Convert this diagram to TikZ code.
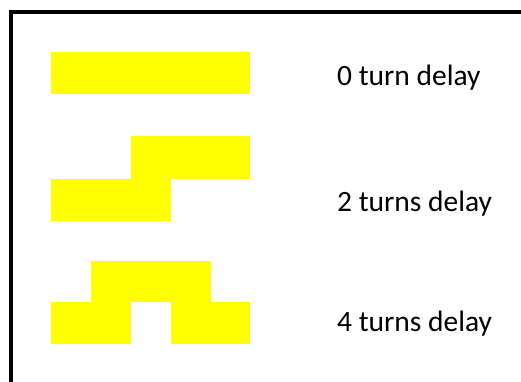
\documentclass[tikz,border=0pt]{standalone}
\usepackage{fontspec}
\setmainfont{Carlito}
\begin{document}
\begin{tikzpicture}[x=1pt,y=-1pt,
  bar/.style={fill={rgb,255:red,255;green,255;blue,0}, draw=none},
  lbl/.style={anchor=base west, inner sep=0pt, font=\fontsize{29.5}{34}\selectfont}]
\useasboundingbox (0,0) rectangle (521,381);
\fill[white] (0,0) rectangle (521,381);
\draw[line width=4pt, miter limit=10] (11,384) -- (11,12) -- (524,12);
% 0 turn delay
\fill[bar] (51,52) rectangle (250,94);
% 2 turns delay
\fill[bar] (131,136) rectangle (250,179);
\fill[bar] (51,179) rectangle (171,221);
% 4 turns delay
\fill[bar] (91,261) rectangle (211,302);
\fill[bar] (51,302) rectangle (131,344);
\fill[bar] (171,302) rectangle (250,344);
\node[lbl] (t0) at (337,85) {0 turn delay};
\node[lbl] (t2) at (337,211) {2 turns delay};
\node[lbl] (t4) at (337,331.5) {4 turns delay};
\end{tikzpicture}
\end{document}
